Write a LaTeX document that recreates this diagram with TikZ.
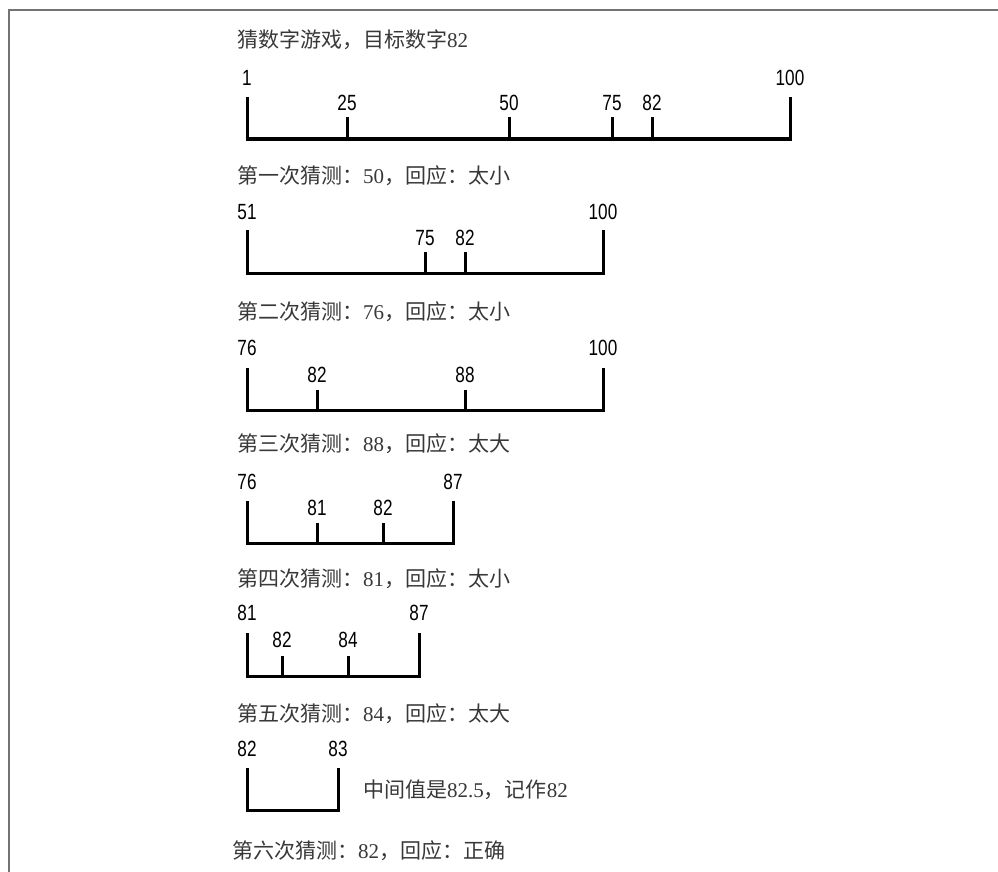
\documentclass[tikz,border=0pt]{standalone}
\usepackage{fontspec}
\setmainfont{Liberation Serif}
\newfontfamily\cjk{Noto Sans CJK SC}
\newfontfamily\numfont{Liberation Sans}[FakeStretch=0.78]
\tikzset{
  bar/.style={line width=3pt, line join=miter},
  caption/.style={anchor=west, inner sep=0pt, text=black!78, font=\fontsize{21}{21}\selectfont},
  numlabel/.style={inner sep=0pt, font=\numfont\fontsize{22}{22}\selectfont},
}
\newcommand{\cn}[1]{{\cjk #1}}
\begin{document}
\begin{tikzpicture}[x=1pt, y=-1pt]
	\useasboundingbox (0,0) rectangle (998,872);
	\draw[black!55, line width=2pt] (8.5,872) -- (8.5,10) -- (998,10);

	% 1 .. 100
	\node[caption] (title) at (237,40) {\cn{猜数字游戏，目标数字}82};
	\draw[bar] (247,97) |- (790,139) -- (790,97);
	\draw[bar] (347,139) -- (347,117);
	\draw[bar] (509,139) -- (509,117);
	\draw[bar] (612,139) -- (612,117);
	\draw[bar] (652,139) -- (652,117);
	\node[numlabel] (a1) at (247,78) {1};
	\node[numlabel] (a100) at (790,78) {100};
	\node[numlabel] (a25) at (347,103) {25};
	\node[numlabel] (a50) at (509,103) {50};
	\node[numlabel] (a75) at (612,103) {75};
	\node[numlabel] (a82) at (652,103) {82};

	% 51 .. 100
	\node[caption] (guess1) at (237,176) {\cn{第一次猜测：}50\cn{，回应：太小}};
	\draw[bar] (247,230) |- (603,273) -- (603,230);
	\draw[bar] (425,273) -- (425,252);
	\draw[bar] (465,273) -- (465,252);
	\node[numlabel] (b51) at (247,212) {51};
	\node[numlabel] (b100) at (603,212) {100};
	\node[numlabel] (b75) at (425,238) {75};
	\node[numlabel] (b82) at (465,238) {82};

	% 76 .. 100
	\node[caption] (guess2) at (237,312) {\cn{第二次猜测：}76\cn{，回应：太小}};
	\draw[bar] (247,368) |- (603,410) -- (603,368);
	\draw[bar] (317,410) -- (317,390);
	\draw[bar] (465,410) -- (465,390);
	\node[numlabel] (c76) at (247,348) {76};
	\node[numlabel] (c100) at (603,348) {100};
	\node[numlabel] (c82) at (317,375) {82};
	\node[numlabel] (c88) at (465,375) {88};

	% 76 .. 87
	\node[caption] (guess3) at (237,444) {\cn{第三次猜测：}88\cn{，回应：太大}};
	\draw[bar] (247,501) |- (453,543) -- (453,501);
	\draw[bar] (317,543) -- (317,523);
	\draw[bar] (383,543) -- (383,523);
	\node[numlabel] (d76) at (247,482) {76};
	\node[numlabel] (d87) at (453,482) {87};
	\node[numlabel] (d81) at (317,508) {81};
	\node[numlabel] (d82) at (383,508) {82};

	% 81 .. 87
	\node[caption] (guess4) at (237,579) {\cn{第四次猜测：}81\cn{，回应：太小}};
	\draw[bar] (247,633) |- (419,676) -- (419,633);
	\draw[bar] (282,676) -- (282,656);
	\draw[bar] (348,676) -- (348,656);
	\node[numlabel] (e81) at (247,613) {81};
	\node[numlabel] (e87) at (419,613) {87};
	\node[numlabel] (e82) at (282,640) {82};
	\node[numlabel] (e84) at (348,640) {84};

	% 82 .. 83
	\node[caption] (guess5) at (237,714) {\cn{第五次猜测：}84\cn{，回应：太大}};
	\draw[bar] (247,768) |- (338,810) -- (338,768);
	\node[numlabel] (f82) at (247,749) {82};
	\node[numlabel] (f83) at (338,749) {83};
	\node[caption] (middle) at (363,790) {\cn{中间值是}82.5\cn{，记作}82};

	\node[caption] (guess6) at (232,851) {\cn{第六次猜测：}82\cn{，回应：正确}};
\end{tikzpicture}
\end{document}
